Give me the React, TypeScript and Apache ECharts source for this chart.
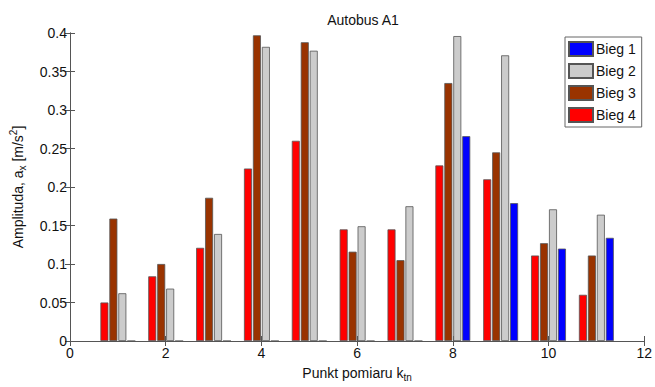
import React, { useEffect, useRef } from "react";
import * as echarts from "echarts";

const points = [1, 2, 3, 4, 5, 6, 7, 8, 9, 10, 11];
const bieg4 = [0.05, 0.084, 0.121, 0.224, 0.26, 0.145, 0.145, 0.228, 0.21, 0.111, 0.06];
const bieg3 = [0.159, 0.1, 0.186, 0.397, 0.388, 0.116, 0.105, 0.335, 0.245, 0.127, 0.111];
const bieg2 = [0.062, 0.068, 0.139, 0.382, 0.377, 0.149, 0.175, 0.396, 0.371, 0.171, 0.164];
const bieg1 = [0, 0, 0, 0, 0, 0, 0, 0.266, 0.179, 0.12, 0.134];
const seriesNames = ["Bieg 4", "Bieg 3", "Bieg 2", "Bieg 1"];
const seriesColors = ["#ff0000", "#993300", "#cccccc", "#0000ff"];
const legendOrder = ["Bieg 1", "Bieg 2", "Bieg 3", "Bieg 4"];

const FONT = "Liberation Sans, Arial, sans-serif";

export default function App() {
  const ref = useRef<HTMLDivElement>(null);
  useEffect(() => {
    if (!ref.current) return;
    const chart = echarts.init(ref.current, null, { renderer: "svg" });
    const all = [bieg4, bieg3, bieg2, bieg1];
    const axisLine = { show: true, lineStyle: { color: "#555", width: 1 } };
    const tick = { show: true, inside: true, length: 5, lineStyle: { color: "#555" } };
    chart.setOption({
      animation: false,
      backgroundColor: "#fff",
      textStyle: { fontFamily: FONT },
      title: {
        text: "Autobus A1",
        left: 358,
        top: 8,
        textAlign: "center",
        textStyle: { fontSize: 14, fontWeight: "normal", color: "#111", fontFamily: FONT },
      },
      grid: { left: 70, right: 8, top: 33, bottom: 42 },
      legend: {
        data: legendOrder,
        orient: "vertical",
        left: 565,
        top: 37,
        itemWidth: 24,
        itemHeight: 14,
        itemGap: 6,
        padding: [4, 6, 4, 3],
        icon: "rect",
        borderColor: "#666",
        borderWidth: 1,
        backgroundColor: "#fff",
        textStyle: { fontSize: 14, color: "#111", fontFamily: FONT, padding: [0, 0, 0, -2] },
      },
      xAxis: [
        {
          type: "value",
          min: 0,
          max: 12,
          interval: 2,
          position: "bottom",
          name: "Punkt pomiaru k{sub|tn}",
          nameLocation: "middle",
          nameGap: 22,
          nameTextStyle: {
            fontSize: 14,
            color: "#111",
            fontFamily: FONT,
            rich: { sub: { fontSize: 10, verticalAlign: "bottom", padding: [9, 0, 0, 0], fontFamily: FONT, color: "#111" } },
          },
          axisLine,
          axisTick: tick,
          splitLine: { show: false },
          axisLabel: { fontSize: 14, color: "#111", margin: 5, fontFamily: FONT },
        },
        {
          type: "value",
          min: 0,
          max: 12,
          interval: 2,
          position: "top",
          axisLine,
          axisTick: tick,
          splitLine: { show: false },
          axisLabel: { show: false },
        },
      ],
      yAxis: [
        {
          type: "value",
          min: 0,
          max: 0.4,
          interval: 0.05,
          position: "left",
          name: "Amplituda, a{sub|x} [m/s{sup|2}]",
          nameLocation: "middle",
          nameRotate: 90,
          nameGap: 43,
          nameTextStyle: {
            fontSize: 14,
            color: "#111",
            fontFamily: FONT,
            rich: {
              sub: { fontSize: 10, verticalAlign: "bottom", padding: [9, 0, 0, 0], fontFamily: FONT, color: "#111" },
              sup: { fontSize: 10, verticalAlign: "top", padding: [0, 0, 7, 0], fontFamily: FONT, color: "#111" },
            },
          },
          axisLine,
          axisTick: tick,
          splitLine: { show: false },
          axisLabel: { fontSize: 14, color: "#111", margin: 3, fontFamily: FONT },
        },
        {
          type: "value",
          min: 0,
          max: 0.4,
          interval: 0.05,
          position: "right",
          axisLine,
          axisTick: tick,
          splitLine: { show: false },
          axisLabel: { show: false },
        },
      ],
      series: seriesNames.map((name, i) => ({
        name,
        type: "bar",
        xAxisIndex: 0,
        yAxisIndex: 0,
        barWidth: 8,
        barGap: "12%",
        itemStyle: { color: seriesColors[i], borderColor: "#555", borderWidth: 0.8 },
        emphasis: { disabled: true },
        data: points.map((p, j) => [p, all[i][j]]),
      })),
    });
    return () => chart.dispose();
  }, []);
  return (
    <div
      ref={ref}
      style={{ position: "fixed", left: 0, top: 0, width: 655, height: 387 }}
    />
  );
}
